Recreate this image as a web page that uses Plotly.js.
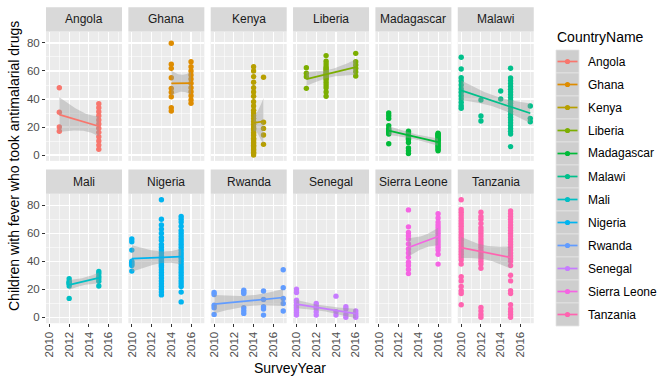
<!DOCTYPE html>
<html>
<head>
<meta charset="utf-8">
<script src="https://cdn.plot.ly/plotly-3.0.1.min.js"></script>
<style>html,body{margin:0;padding:0;background:#fff}#chart{width:672px;height:384px}</style>
</head>
<body>
<div id="chart"></div>
<script>
// ---------- DATA ----------
const countries = ["Angola","Ghana","Kenya","Liberia","Madagascar","Malawi","Mali","Nigeria","Rwanda","Senegal","Sierra Leone","Tanzania"];
const yTicks = [0,20,40,60,80];
const xTicks = [2010,2012,2014,2016];

const angola = {2011:[48,30.5,20,17], 2015:[36.6,33.8,30.9,28.1,25,22.1,19.1,16.2,13.1,10,7.1,4.1]};
const ghana = {2014:[79.8,64.8,61.9,55.2,47.6,44.8,41.6,33.8,31.4], 2016:[66.6,63.1,60,57.1,54.3,51.2,48.1,45.2,42.4,39.3,36.9]};
const kenya = {2014:[63,60,56,52,48,45,42,38,35,32,30,28,26,24,22,20,19,18,16,15,14,12,11,10,9,8,7,6,5,4,3,2,1,0], 2015:[55.5,23.4,19,14.3,7.6]};
const liberia = {2011:[62.4,58.4,55.9,47.6], 2013:[71,67,65,63,62,61,60,59,58,57,56,55,54,52,50,48,45,42], 2016:[72.6,66.6,64.3,61.9,59.5,56.4]};
const madagascar = {2011:[30,28,26,21,19,18,17,16,15,8], 2013:[17,16,15,14,13,12,11,9,5,3,1], 2016:[15.5,15,14.5,14,13.5,13,12,11.5,11,10.5,10,9,8,7,6,5,4,3]};
const malawi = {2010:[69.8,61.4,55.2,52.9,50,47.1,44.8,42.4,40,37.6,35.2,33.4], 2012:[39.3,27.9,24.3], 2014:[45.7,40], 2015:[62,55,53,51,49,47,45,43,41,39,37,35,33,31,29,27,25,23,21,19,17,15,6], 2017:[35,26.2,23.8]};
const mali = {2012:[27.6,25.7,25,24.1,24,22.4,13.5], 2015:[32.8,31.2,29.2,27.6,25.7,22.4]};
const nigeria = {2010:[56,54,48,40,39,38,37,33], 2013:[84,70,66,63,60,57,55,52,50,48,46,44,42,41,40,39,38,37,36,34,32,30,28,26,24,22,20,18,16], 2015:[72,70,68,65,62,60,58,56,54,52,50,48,46,44,42,40,38,36,34,32,30,28,26,24,22,18,11]};
const rwanda = {2010:[17.7,16.3,8.7,6.8,2.1], 2013:[19.3,18.1,17,6.8,4.7,2.8], 2015:[18.8,12.7,7.5,5.9,1.6], 2017:[34,21.2,13.5,9.9,4.5]};
const senegal = {2010:[20,17.7,12.2,10.6,8.7,6.8,5.2,3.5,1.6], 2012:[9.9,8.2,6.4,4,1.6], 2014:[15.1,4,1.6], 2015:[7.5,5.9,2.1,0], 2016:[4.5,2.8,1.2,0]};
const sierraLeone = {2013:[76.7,64.6,60.6,58.3,55.9,52.4,48.8,46,42.9,39.4,37,34.2,31.2], 2016:[74,71,68,66,64,62,60,58,56,54,52,50,48,45,38]};
const tanzania = {2010:[84,77,75,73,71,69,67,65,63,61,59,57,55,53,51,49,47,45,43,41,38,29,26,22,19,17,9], 2012:[75,72,70,67,64,62,60,58,56,54,52,50,48,46,44,42,40,38,35,7,4.5,2,0], 2015:[76,74,72,70,68,66,64,62,60,58,56,54,52,50,48,46,44,42,40,37,30,26,19,17,9,6,4,2,0]};

const seriesData = [angola,ghana,kenya,liberia,madagascar,malawi,mali,nigeria,rwanda,senegal,sierraLeone,tanzania];

// ---------- STYLE ----------
const colors = ["#F8766D","#DE8C00","#B79F00","#7CAE00","#00BA38","#00C08B","#00BFC4","#00B4F0","#619CFF","#C77CFF","#F564E3","#FF64B0"];
const FONT = "Liberation Sans, Arial, sans-serif";
const W = 672, H = 384;
const colLeft = i => 46 + i*82.35;
const panelW = 76, panelH = 129.4;
const rowTop = [31.5, 193.8];
const stripH = 24.3;
const px = v => v / W, py = v => 1 - v / H;

function tq(df){
  const z = 1.959964;
  const g1 = (z**3 + z)/4;
  const g2 = (5*z**5 + 16*z**3 + 3*z)/96;
  const g3 = (3*z**7 + 19*z**5 + 17*z**3 - 15*z)/384;
  return z + g1/df + g2/df**2 + g3/df**3;
}

const traces = [];
const layout = {
  width: W, height: H,
  margin: {l:0, r:0, t:0, b:0},
  paper_bgcolor: "#FFFFFF",
  plot_bgcolor: "#EBEBEB",
  showlegend: false,
  font: {family: FONT},
  shapes: [], annotations: []
};

countries.forEach((name, k) => {
  const row = Math.floor(k/6), col = k % 6;
  const xs = [], ys = [];
  Object.keys(seriesData[k]).forEach(yr => {
    seriesData[k][yr].forEach(v => { xs.push(+yr); ys.push(v); });
  });
  const ax = k === 0 ? "" : String(k+1);
  // points
  traces.push({type:"scatter", mode:"markers", x:xs, y:ys, xaxis:"x"+ax, yaxis:"y"+ax,
    marker:{color:colors[k], size:5.4, line:{width:0}}, hoverinfo:"skip"});
  // linear fit + 95% band
  const n = xs.length;
  const xbar = xs.reduce((a,b)=>a+b,0)/n, ybar = ys.reduce((a,b)=>a+b,0)/n;
  let sxx=0, sxy=0;
  for (let i=0;i<n;i++){ sxx += (xs[i]-xbar)**2; sxy += (xs[i]-xbar)*(ys[i]-ybar); }
  const b = sxy/sxx, a = ybar - b*xbar;
  let sse = 0;
  for (let i=0;i<n;i++){ sse += (ys[i]-a-b*xs[i])**2; }
  const s = Math.sqrt(sse/(n-2));
  const t = tq(n-2);
  const xmin = Math.min(...xs), xmax = Math.max(...xs);
  const gx=[], fit=[], lo=[], hi=[];
  for (let j=0;j<80;j++){
    const x = xmin + (xmax-xmin)*j/79;
    const f = a + b*x;
    const se = s*Math.sqrt(1/n + (x-xbar)**2/sxx);
    gx.push(x); fit.push(f); lo.push(f - t*se); hi.push(f + t*se);
  }
  traces.push({type:"scatter", mode:"lines", x:gx.concat(gx.slice().reverse()), y:hi.concat(lo.slice().reverse()),
    fill:"toself", fillcolor:"rgba(153,153,153,0.4)", line:{width:0}, xaxis:"x"+ax, yaxis:"y"+ax, hoverinfo:"skip"});
  traces.push({type:"scatter", mode:"lines", x:gx, y:fit, line:{color:colors[k], width:1.7},
    xaxis:"x"+ax, yaxis:"y"+ax, hoverinfo:"skip"});

  const left = colLeft(col), top = rowTop[row];
  layout["xaxis"+ax] = {
    domain:[px(left), px(left+panelW)], anchor:"y"+ax,
    range:[2009.65, 2017.35], tickmode:"array", tickvals:xTicks, ticktext:xTicks.map(String),
    showgrid:true, gridcolor:"#FFFFFF", gridwidth:1.1, zeroline:false, showline:false,
    minor:{tickmode:"array", tickvals:[2011,2013,2015,2017], showgrid:true, gridcolor:"#FFFFFF", gridwidth:0.55},
    ticks: row===1 ? "outside" : "", ticklen:3, tickwidth:1, tickcolor:"#333333",
    showticklabels: row===1, tickangle:-90,
    tickfont:{family:FONT, size:11.5, color:"#4D4D4D"}, fixedrange:true
  };
  layout["yaxis"+ax] = {
    domain:[py(top+panelH), py(top)], anchor:"x"+ax,
    range:[-4.2, 88.2], tickmode:"array", tickvals:yTicks, ticktext:yTicks.map(String),
    showgrid:true, gridcolor:"#FFFFFF", gridwidth:1.1, zeroline:false, showline:false,
    minor:{tickmode:"array", tickvals:[10,30,50,70], showgrid:true, gridcolor:"#FFFFFF", gridwidth:0.55},
    ticks: col===0 ? "outside" : "", ticklen:3, tickwidth:1, tickcolor:"#333333",
    showticklabels: col===0,
    tickfont:{family:FONT, size:11.5, color:"#4D4D4D"}, fixedrange:true
  };
  // strip
  layout.shapes.push({type:"rect", xref:"paper", yref:"paper", x0:px(left), x1:px(left+panelW),
    y0:py(top), y1:py(top-stripH), fillcolor:"#D9D9D9", line:{width:0}, layer:"below"});
  layout.annotations.push({xref:"paper", yref:"paper", x:px(left+panelW/2), y:py(top-stripH/2),
    text:name, showarrow:false, xanchor:"center", yanchor:"middle",
    font:{family:FONT, size:12, color:"#1A1A1A"}});
});

// axis titles
layout.annotations.push({xref:"paper", yref:"paper", x:px(289.5), y:py(368), text:"SurveyYear",
  showarrow:false, xanchor:"center", yanchor:"middle", font:{family:FONT, size:14, color:"#000000"}});
layout.annotations.push({xref:"paper", yref:"paper", x:px(14), y:py(166), text:"Children with fever who took antimalarial drugs",
  textangle:-90, showarrow:false, xanchor:"center", yanchor:"middle", font:{family:FONT, size:14, color:"#000000"}});

// legend (manual, ggplot style)
layout.annotations.push({xref:"paper", yref:"paper", x:px(555), y:py(37), text:"CountryName",
  showarrow:false, xanchor:"left", yanchor:"middle", font:{family:FONT, size:14, color:"#000000"}});
const keyTop = 50, keyH = 23, keyL = 556, keyR = 579;
countries.forEach((name, k) => {
  const y0 = keyTop + k*keyH, yc = y0 + keyH/2;
  layout.shapes.push({type:"rect", xref:"paper", yref:"paper", x0:px(keyL), x1:px(keyR), y0:py(y0), y1:py(y0+keyH),
    fillcolor:"#CECECE", line:{color:"#E4E4E4", width:0.8}});
  layout.shapes.push({type:"line", xref:"paper", yref:"paper", x0:px(keyL+1.5), x1:px(keyR-1.5), y0:py(yc), y1:py(yc),
    line:{color:colors[k], width:1.7}});
  layout.shapes.push({type:"circle", xref:"paper", yref:"paper", x0:px(keyL+11.5-2.6), x1:px(keyL+11.5+2.6),
    y0:py(yc-2.6), y1:py(yc+2.6), fillcolor:colors[k], line:{width:0}});
  layout.annotations.push({xref:"paper", yref:"paper", x:px(586), y:py(yc), text:name,
    showarrow:false, xanchor:"left", yanchor:"middle", font:{family:FONT, size:12, color:"#000000"}});
});

Plotly.newPlot("chart", traces, layout, {staticPlot:true, displayModeBar:false});
</script>
</body>
</html>
